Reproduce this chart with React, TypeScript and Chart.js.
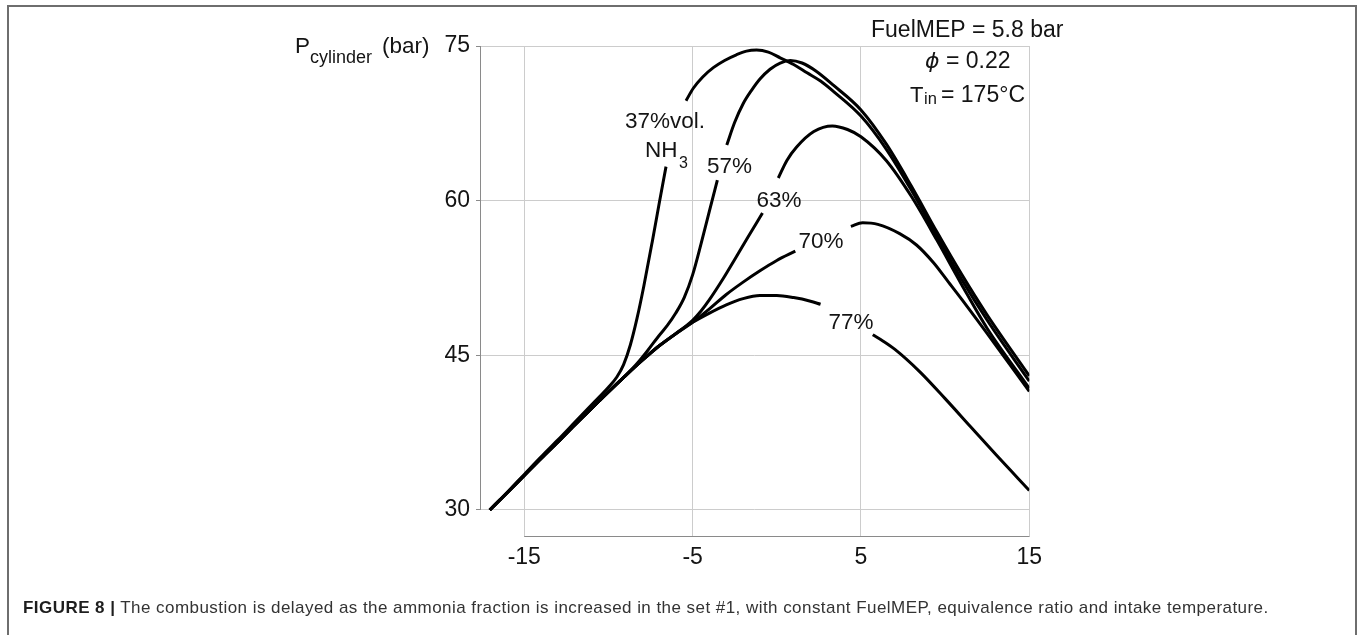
import { useEffect, useRef } from 'react';
import { Chart, registerables } from 'chart.js';

Chart.register(...registerables);

// Crank angle (deg) and cylinder pressure (bar) traces, one pair per NH3 fraction.
// A null pair marks where the trace is interrupted for its label.
const crankAngleTicks = [-15, -5, 5, 15];
const pressureTicks = [30, 45, 60, 75];

const deg37 = [-17.05, -16, -15, -14, -13, -12, -11, -10, -9.5, -9.1, -8.7, -8.3, -7.9, -7.4, -7.0, -6.58, null, -5.39, -4.96, -4.4, -3.77, -3.1, -2.4, -1.8, -1.2, -0.5, 0.2, 1, 1.8, 2.6, 3.36, 5, 6.5, 8, 9.5, 11, 12.5, 15];
const bar37 = [30, 31.75, 33.45, 35.15, 36.8, 38.5, 40.2, 41.9, 42.9, 44.1, 46.0, 48.6, 51.7, 56.0, 59.6, 63.3, null, 69.7, 70.9, 72.0, 72.9, 73.6, 74.15, 74.5, 74.6, 74.4, 73.85, 73.2, 72.4, 71.6, 70.6, 68.2, 65.0, 61.0, 56.6, 52.3, 48.4, 42.5];

const deg57 = [-17.05, -16, -15, -14, -13, -12, -11, -10, -9, -8.3, -7.7, -7, -6.5, -6, -5.5, -5.0, -4.5, -4.0, -3.53, null, -2.97, -2.5, -2.0, -1.5, -1.0, -0.4, 0.2, 0.8, 1.5, 2.3, 3.36, 5, 6.5, 8, 9.5, 11, 12.5, 15];
const bar57 = [30, 31.7, 33.35, 35.0, 36.6, 38.25, 39.85, 41.45, 43.0, 44.2, 45.4, 46.9, 47.9, 49.1, 50.6, 52.8, 55.8, 59.0, 62.0, null, 65.4, 67.6, 69.4, 70.7, 71.8, 72.75, 73.35, 73.6, 73.35, 72.6, 71.2, 68.8, 65.5, 61.4, 57.0, 52.8, 48.9, 43.0];

const deg63 = [-17.05, -16, -15, -14, -13, -12, -11, -10, -9, -8, -7, -6, -5, -4.5, -4, -3.2, -2.5, -1.7, -0.85, null, 0.09, 0.6, 1.18, 2.2, 3.3, 4.2, 5, 6.5, 8, 9.5, 11, 12.5, 15];
const bar63 = [30, 31.7, 33.35, 35.0, 36.6, 38.25, 39.85, 41.45, 43.0, 44.5, 45.9, 47.1, 48.4, 49.3, 50.4, 52.4, 54.3, 56.5, 58.8, null, 62.2, 63.9, 65.2, 66.7, 67.25, 66.9, 66.2, 63.9, 60.4, 56.2, 51.8, 47.6, 41.8];

const deg70 = [-17.05, -16, -15, -14, -13, -12, -11, -10, -9, -8, -7, -6, -5, -4, -3, -2, -1, 0, 1.1, null, 4.4, 5.1, 6, 7.3, 8.3, 9.3, 10.2, 11, 13, 15];
const bar70 = [30, 31.7, 33.35, 35.0, 36.6, 38.25, 39.85, 41.45, 43.0, 44.5, 45.9, 47.1, 48.2, 49.5, 50.9, 52.1, 53.2, 54.2, 55.1, null, 57.5, 57.85, 57.7, 56.8, 55.7, 54.0, 52.1, 50.4, 46.0, 41.5];

const deg77 = [-17.05, -16, -15, -14, -13, -12, -11, -10, -9, -8, -7, -6, -5, -4, -3, -2, -1, 0, 1, 2, 2.6, null, 5.7, 6.3, 7, 8.5, 10, 11.5, 13, 15];
const bar77 = [30, 31.7, 33.35, 35.0, 36.6, 38.25, 39.85, 41.45, 43.0, 44.5, 45.9, 47.1, 48.2, 49.1, 49.9, 50.5, 50.8, 50.8, 50.6, 50.25, 49.95, null, 47.0, 46.4, 45.6, 43.4, 40.8, 38.1, 35.4, 31.9];

const seriesNames = ['37%vol.', '57%', '63%', '70%', '77%'];
const seriesDeg = [deg37, deg57, deg63, deg70, deg77];
const seriesBar = [bar37, bar57, bar63, bar70, bar77];

const FONT = "'Liberation Sans', Arial, Helvetica, sans-serif";
const INK = '#141414';

function toPoints(xs: (number | null)[], ys: (number | null)[]) {
  return xs.map((x, i) => {
    if (x === null || ys[i] === null) {
      const a = xs[i - 1] as number;
      const b = xs[i + 1] as number;
      return { x: (a + b) / 2, y: null };
    }
    return { x, y: ys[i] };
  });
}

const figureText = {
  id: 'figureText',
  beforeDatasetsDraw(chart: any) {
    const { ctx, chartArea, scales } = chart;
    const xs = scales.x;
    const ys = scales.y;
    ctx.save();
    ctx.strokeStyle = '#8a8a8a';
    ctx.lineWidth = 1;
    const lx = Math.round(chartArea.left) + 0.5;
    const by = Math.round(chartArea.bottom) - 0.5;
    ctx.beginPath();
    ctx.moveTo(lx, ys.getPixelForValue(pressureTicks[pressureTicks.length - 1]));
    ctx.lineTo(lx, ys.getPixelForValue(pressureTicks[0]));
    ctx.moveTo(xs.getPixelForValue(crankAngleTicks[0]), by);
    ctx.lineTo(xs.getPixelForValue(crankAngleTicks[crankAngleTicks.length - 1]), by);
    ctx.stroke();
    ctx.restore();
  },
  afterDatasetsDraw(chart: any) {
    const { ctx, scales } = chart;
    const xs = scales.x;
    const ys = scales.y;
    ctx.save();
    ctx.fillStyle = INK;
    ctx.textBaseline = 'alphabetic';

    const put = (t: string, x: number, y: number, size: number, align: CanvasTextAlign = 'left', style = '') => {
      ctx.font = `${style}${size}px ${FONT}`;
      ctx.textAlign = align;
      ctx.fillText(t, x, y);
    };

    // axis title
    put('P', 295, 53, 22.5);
    put('cylinder', 310, 63, 18);
    put('(bar)', 382, 53, 22.5);

    // operating conditions
    put('FuelMEP = 5.8 bar', 871, 37, 23);
    ctx.font = `italic 22px 'DejaVu Sans', ${FONT}`;
    ctx.textAlign = 'left';
    ctx.fillText('\u03D5', 925, 68);
    put('= 0.22', 946, 68, 23);
    put('T', 910, 102, 22);
    put('in', 924, 104, 16.5);
    put('= 175\u00B0C', 941, 102, 23);

    // trace labels, anchored in data space
    const at = (x: number, y: number) => [xs.getPixelForValue(x), ys.getPixelForValue(y)];
    let p = at(-6.64, 67.05);
    put(seriesNames[0], p[0], p[1], 22.5, 'center');
    p = at(-7.83, 64.23);
    put('NH', p[0], p[1], 22.5);
    put('3', p[0] + 34, p[1] + 11, 16);
    p = at(-2.81, 62.68);
    put(seriesNames[1], p[0], p[1], 22.5, 'center');
    p = at(0.13, 59.42);
    put(seriesNames[2], p[0], p[1], 22.5, 'center');
    p = at(2.63, 55.41);
    put(seriesNames[3], p[0], p[1], 22.5, 'center');
    p = at(4.41, 47.55);
    put(seriesNames[4], p[0], p[1], 22.5, 'center');
    ctx.restore();
  },
};

export default function App() {
  const canvasRef = useRef<HTMLCanvasElement | null>(null);

  useEffect(() => {
    const canvas = canvasRef.current;
    if (!canvas) return;
    const chart = new Chart(canvas, {
      type: 'line',
      data: {
        datasets: seriesNames.map((name, i) => ({
          label: name,
          data: toPoints(seriesDeg[i], seriesBar[i]) as any,
          borderColor: '#000',
          borderWidth: 3,
          pointRadius: 0,
          fill: false,
          spanGaps: false,
          cubicInterpolationMode: 'monotone' as const,
          borderCapStyle: 'butt' as const,
        })),
      },
      options: {
        animation: false,
        responsive: false,
        maintainAspectRatio: false,
        parsing: false as any,
        normalized: true,
        layout: { padding: { left: 0, top: 46, right: 330.7, bottom: 0 } },
        plugins: { legend: { display: false }, tooltip: { enabled: false } },
        scales: {
          x: {
            type: 'linear',
            min: -17.63,
            max: 15,
            afterBuildTicks: (s: any) => {
              s.ticks = crankAngleTicks.map((v) => ({ value: v }));
            },
            afterFit: (s: any) => {
              s.height = 98;
            },
            grid: { color: '#cccccc', lineWidth: 1, drawTicks: false },
            border: { display: false },
            ticks: {
              padding: 7,
              color: INK,
              font: { family: FONT, size: 23 },
              maxRotation: 0,
              autoSkip: false,
            },
          },
          y: {
            type: 'linear',
            min: 27.38,
            max: 75,
            afterBuildTicks: (s: any) => {
              s.ticks = pressureTicks.map((v) => ({ value: v }));
            },
            afterFit: (s: any) => {
              s.width = 480;
            },
            grid: { color: '#cccccc', lineWidth: 1, drawTicks: true, tickLength: 4, tickColor: '#8a8a8a' },
            border: { display: false },
            ticks: {
              padding: 6,
              color: INK,
              font: { family: FONT, size: 23 },
              autoSkip: false,
            },
          },
        },
      },
      plugins: [figureText],
    });
    return () => chart.destroy();
  }, []);

  return (
    <div style={{ position: 'absolute', left: 0, top: 0, width: 1360, height: 635, overflow: 'hidden', background: '#fff' }}>
      <div
        style={{
          position: 'absolute',
          left: 7,
          top: 5,
          width: 1350,
          height: 660,
          border: '2px solid #6e6e6e',
          boxSizing: 'border-box',
        }}
      />
      <canvas ref={canvasRef} width={1360} height={635} style={{ position: 'absolute', left: 0, top: 0 }} />
      <div
        style={{
          position: 'absolute',
          left: 23,
          top: 599,
          fontFamily: FONT,
          fontSize: 17,
          letterSpacing: '0.45px',
          lineHeight: '17px',
          color: '#333',
          whiteSpace: 'nowrap',
        }}
      >
        <b style={{ color: '#1e1e1e' }}>FIGURE 8 |</b> The combustion is delayed as the ammonia fraction is increased in the set #1, with constant FuelMEP, equivalence ratio and intake temperature.
      </div>
    </div>
  );
}
